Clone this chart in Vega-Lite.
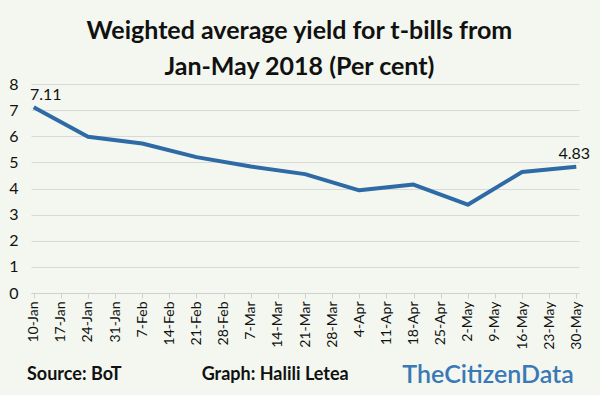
{
  "$schema": "https://vega.github.io/schema/vega-lite/v6.json",
  "background": "#f3f7ef",
  "padding": {"left": 8, "top": 19, "right": 10, "bottom": 0},
  "title": {
    "text": ["Weighted average yield for t-bills from", "Jan-May 2018 (Per cent)"],
    "font": "Lato", "fontSize": 25, "fontWeight": "bold", "lineHeight": 36,
    "color": "#111111", "anchor": "middle", "offset": -4
  },
  "config": {"view": {"stroke": null}, "font": "Lato"},
  "spacing": 5,
  "vconcat": [
    {
      "width": 548,
      "height": 209,
      "data": {"values": [
        {"date": "10-Jan", "yield": 7.11},
        {"date": "24-Jan", "yield": 5.98},
        {"date": "7-Feb", "yield": 5.72},
        {"date": "21-Feb", "yield": 5.2},
        {"date": "7-Mar", "yield": 4.84},
        {"date": "21-Mar", "yield": 4.55},
        {"date": "4-Apr", "yield": 3.93},
        {"date": "18-Apr", "yield": 4.15},
        {"date": "2-May", "yield": 3.38},
        {"date": "16-May", "yield": 4.63},
        {"date": "30-May", "yield": 4.83}
      ]},
      "encoding": {
        "x": {
          "field": "date", "type": "ordinal", "sort": null,
          "scale": {"type": "point", "padding": 0.1, "domain": ["10-Jan","17-Jan","24-Jan","31-Jan","7-Feb","14-Feb","21-Feb","28-Feb","7-Mar","14-Mar","21-Mar","28-Mar","4-Apr","11-Apr","18-Apr","25-Apr","2-May","9-May","16-May","23-May","30-May"]},
          "axis": {"title": null, "labelAngle": -90, "labelFontSize": 14, "labelColor": "#111111", "labelFont": "Lato", "ticks": true, "tickColor": "#d0d0d0", "tickSize": 5, "domainColor": "#d0d0d0", "grid": false, "labelPadding": 3}
        },
        "y": {
          "field": "yield", "type": "quantitative",
          "scale": {"domain": [0, 8]},
          "axis": {"title": null, "values": [0,1,2,3,4,5,6,7,8], "grid": true, "gridColor": "#d9d9d9", "domain": false, "ticks": false, "labelFontSize": 16, "labelColor": "#111111", "labelPadding": 13}
        }
      },
      "layer": [
        {"mark": {"type": "line", "color": "#2e6aa6", "strokeWidth": 4, "strokeJoin": "round"}},
        {
          "transform": [{"filter": "datum.date == '10-Jan'"}],
          "mark": {"type": "text", "fontSize": 16, "color": "#111111", "dy": -12, "dx": 12},
          "encoding": {"text": {"field": "yield", "type": "quantitative", "format": ".2f"}}
        },
        {
          "transform": [{"filter": "datum.date == '30-May'"}],
          "mark": {"type": "text", "fontSize": 16, "color": "#111111", "dy": -13, "dx": -2},
          "encoding": {"text": {"field": "yield", "type": "quantitative", "format": ".2f"}}
        }
      ]
    },
    {
      "width": 548,
      "height": 40,
      "data": {"values": [
        {"item": "Source: BoT", "kind": "source"},
        {"item": "Graph: Halili Letea", "kind": "graph"},
        {"item": "TheCitizenData", "kind": "brand"}
      ]},
      "encoding": {
        "x": {"field": "item", "type": "nominal", "sort": null, "bandPosition": 0, "scale": {"type": "band", "paddingInner": 0, "paddingOuter": 0}, "axis": null},
        "text": {"field": "item"}
      },
      "layer": [
        {"transform": [{"filter": "datum.kind == 'source'"}], "mark": {"type": "text", "align": "left", "fontSize": 18, "fontWeight": "bold", "color": "#111111", "dx": -4}},
        {"transform": [{"filter": "datum.kind == 'graph'"}], "mark": {"type": "text", "align": "left", "fontSize": 18, "fontWeight": "bold", "color": "#111111", "dx": -12}},
        {"transform": [{"filter": "datum.kind == 'brand'"}], "mark": {"type": "text", "align": "left", "fontSize": 25, "fontWeight": 600, "color": "#3a78b6", "dx": 6}}
      ]
    }
  ]
}
